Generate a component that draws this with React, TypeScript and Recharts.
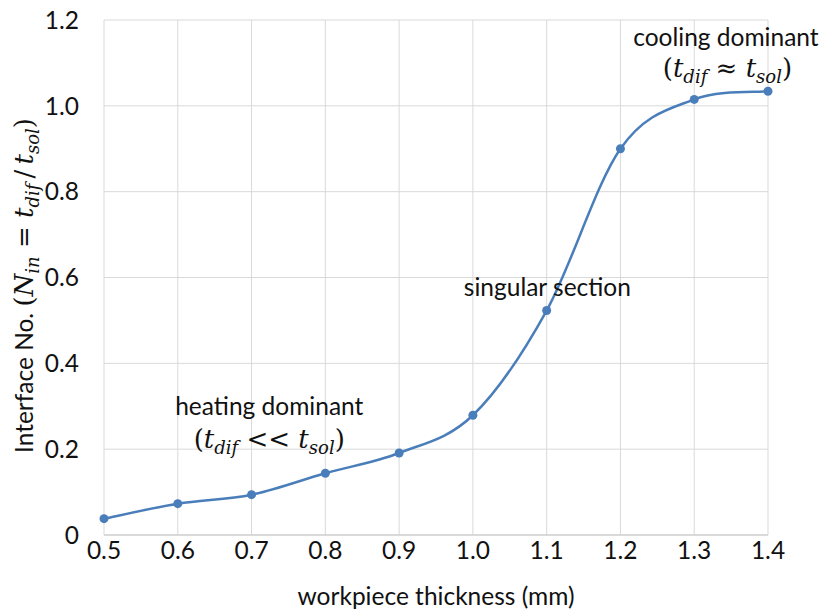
import React from "react";
import {
  LineChart,
  Line,
  XAxis,
  YAxis,
  CartesianGrid,
  ReferenceDot,
} from "recharts";

// workpiece thickness (mm)
const thickness = [0.5, 0.6, 0.7, 0.8, 0.9, 1.0, 1.1, 1.2, 1.3, 1.4];
// interface number N_in = t_dif / t_sol
const interfaceNo = [0.038, 0.073, 0.094, 0.144, 0.191, 0.279, 0.523, 0.9, 1.015, 1.034];

const xTicks = [0.5, 0.6, 0.7, 0.8, 0.9, 1.0, 1.1, 1.2, 1.3, 1.4];
const yTicks = [0, 0.2, 0.4, 0.6, 0.8, 1.0, 1.2];

const data = thickness.map((t, i) => ({ t, n: interfaceNo[i] }));

const LINE_COLOR = "#4a7ebb";
const GRID_COLOR = "#d9d9d9";
const SANS = "Lato, 'Noto Sans', sans-serif";
const MATH = "'DejaVu Serif', 'Liberation Serif', serif";
const TEXT_SIZE = 24.5;
const MATH_SIZE = 26;
const SUB = 18;
const SUB_DY = 6;

// Smoothed line in the style of spreadsheet charts (uniform Catmull-Rom as Bezier segments)
const smoothCurve = (context: any) => {
  let pts: [number, number][] = [];
  return {
    areaStart() {},
    areaEnd() {},
    lineStart() {
      pts = [];
    },
    lineEnd() {
      const n = pts.length;
      if (!n) return;
      context.moveTo(pts[0][0], pts[0][1]);
      for (let i = 0; i < n - 1; i++) {
        const p0 = pts[Math.max(i - 1, 0)];
        const p1 = pts[i];
        const p2 = pts[i + 1];
        const p3 = pts[Math.min(i + 2, n - 1)];
        context.bezierCurveTo(
          p1[0] + (p2[0] - p0[0]) / 6,
          p1[1] + (p2[1] - p0[1]) / 6,
          p2[0] - (p3[0] - p1[0]) / 6,
          p2[1] - (p3[1] - p1[1]) / 6,
          p2[0],
          p2[1]
        );
      }
    },
    point(x: number, y: number) {
      pts.push([+x, +y]);
    },
  };
};

// (t_dif <op> t_sol)
const RatioText = ({ x, y, op }: { x: number; y: number; op: string }) => (
  <text x={x} y={y} textAnchor="middle" fontFamily={MATH} fontSize={MATH_SIZE} fill="#111">
    <tspan>(</tspan>
    <tspan fontStyle="italic">t</tspan>
    <tspan fontStyle="italic" fontSize={SUB} dy={SUB_DY}>dif</tspan>
    <tspan dy={-SUB_DY}>{` ${op} `}</tspan>
    <tspan fontStyle="italic">t</tspan>
    <tspan fontStyle="italic" fontSize={SUB} dy={SUB_DY}>sol</tspan>
    <tspan dy={-SUB_DY}>)</tspan>
  </text>
);

const PlainText = ({ x, y, text }: { x: number; y: number; text: string }) => (
  <text x={x} y={y} textAnchor="middle" fontFamily={SANS} fontSize={TEXT_SIZE} fill="#111">
    {text}
  </text>
);

const YTitle = (props: any) => {
  const vb = props.viewBox || {};
  const cx = 33;
  const cy = vb.y + vb.height / 2 + 8;
  const m = { fontFamily: MATH, fontSize: MATH_SIZE };
  const s = { fontFamily: MATH, fontSize: SUB, fontStyle: "italic" };
  return (
    <text
      x={cx}
      y={cy}
      transform={`rotate(-90 ${cx} ${cy})`}
      textAnchor="middle"
      fill="#111"
      fontFamily={SANS}
      fontSize={TEXT_SIZE}
    >
      <tspan>Interface No. </tspan>
      <tspan {...m}>(</tspan>
      <tspan {...m} fontStyle="italic">N</tspan>
      <tspan {...s} dy={SUB_DY}>in</tspan>
      <tspan {...m} dy={-SUB_DY}>{" = "}</tspan>
      <tspan {...m} fontStyle="italic">t</tspan>
      <tspan {...s} dy={SUB_DY}>dif</tspan>
      <tspan {...m} dy={-SUB_DY}>{"\u2009/\u2009"}</tspan>
      <tspan {...m} fontStyle="italic">t</tspan>
      <tspan {...s} dy={SUB_DY}>sol</tspan>
      <tspan {...m} dy={-SUB_DY}>)</tspan>
    </text>
  );
};

const XTitle = (props: any) => {
  const vb = props.viewBox || {};
  return (
    <text
      x={vb.x + vb.width / 2}
      y={605}
      textAnchor="middle"
      fill="#111"
      fontFamily={SANS}
      fontSize={TEXT_SIZE}
    >
      workpiece thickness (mm)
    </text>
  );
};

const fmtY = (v: number) => (v === 0 ? "0" : v.toFixed(1));
const fmtX = (v: number) => v.toFixed(1);

export default function App() {
  return (
    <div style={{ position: "absolute", left: 0, top: 0, width: 831, height: 609, background: "#fff" }}>
      <LineChart
        width={831}
        height={609}
        data={data}
        margin={{ top: 20, right: 63, bottom: 0, left: 0 }}
      >
        <CartesianGrid stroke={GRID_COLOR} strokeWidth={1} />
        <XAxis
          dataKey="t"
          type="number"
          domain={[0.5, 1.4]}
          ticks={xTicks}
          tickFormatter={fmtX}
          interval={0}
          height={74}
          tickSize={0}
          tickMargin={7}
          axisLine={{ stroke: "#c8c8c8" }}
          tickLine={false}
          tick={{ fill: "#111", fontSize: TEXT_SIZE, fontFamily: SANS }}
          label={{ content: XTitle }}
        />
        <YAxis
          type="number"
          domain={[0, 1.2]}
          ticks={yTicks}
          tickFormatter={fmtY}
          interval={0}
          width={104}
          tickSize={0}
          tickMargin={25}
          axisLine={false}
          tickLine={false}
          tick={{ fill: "#111", fontSize: TEXT_SIZE, fontFamily: SANS }}
          label={{ content: YTitle }}
        />
        <Line
          dataKey="n"
          type={smoothCurve as any}
          stroke={LINE_COLOR}
          strokeWidth={2.5}
          dot={{ r: 4.5, fill: LINE_COLOR, stroke: LINE_COLOR, strokeWidth: 0 }}
          activeDot={false}
          isAnimationActive={false}
        />
        <ReferenceDot
          x={1.343}
          y={1.14}
          r={0}
          ifOverflow="visible"
          shape={(p: any) => <PlainText x={p.cx} y={p.cy} text="cooling dominant" />}
        />
        <ReferenceDot
          x={1.345}
          y={1.068}
          r={0}
          ifOverflow="visible"
          shape={(p: any) => <RatioText x={p.cx} y={p.cy} op="≈" />}
        />
        <ReferenceDot
          x={1.101}
          y={0.556}
          r={0}
          ifOverflow="visible"
          shape={(p: any) => <PlainText x={p.cx} y={p.cy} text="singular section" />}
        />
        <ReferenceDot
          x={0.724}
          y={0.28}
          r={0}
          ifOverflow="visible"
          shape={(p: any) => <PlainText x={p.cx} y={p.cy} text="heating dominant" />}
        />
        <ReferenceDot
          x={0.724}
          y={0.2035}
          r={0}
          ifOverflow="visible"
          shape={(p: any) => <RatioText x={p.cx} y={p.cy} op="<<" />}
        />
      </LineChart>
    </div>
  );
}
